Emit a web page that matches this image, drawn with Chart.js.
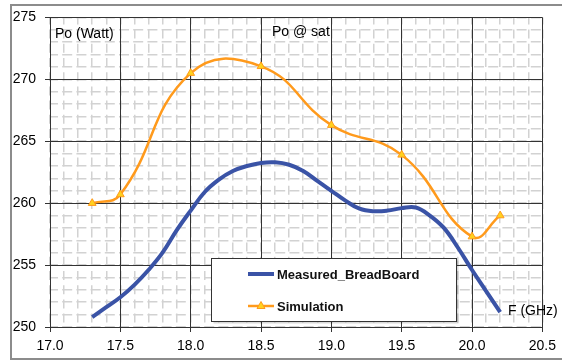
<!DOCTYPE html>
<html>
<head>
<meta charset="utf-8">
<title>Po @ sat</title>
<script src="https://cdn.jsdelivr.net/npm/chart.js"></script>
<style>
  html, body { margin: 0; padding: 0; background: #fff; }
  canvas { display: block; }
</style>
</head>
<body>
<canvas id="poChart" width="562" height="360"></canvas>
<script>
// Output power at saturation vs frequency
var measuredF = [17.3, 17.4, 17.5, 17.6, 17.7, 17.8, 17.9, 18.0, 18.1, 18.2, 18.3, 18.4, 18.5, 18.6, 18.7,
                 18.8, 18.9, 19.0, 19.1, 19.2, 19.3, 19.4, 19.5, 19.6, 19.7, 19.8, 19.9, 20.0, 20.1, 20.2];
var measuredPo = [250.8, 251.6, 252.4, 253.4, 254.6, 256.0, 257.8, 259.4, 260.9, 261.9, 262.6, 263.0, 263.25, 263.3, 263.1,
                  262.6, 261.8, 261.0, 260.2, 259.55, 259.35, 259.4, 259.6, 259.65, 259.0, 258.0, 256.4, 254.6, 252.9, 251.2];

var simF = [17.3, 17.5, 18.0, 18.5, 19.0, 19.5, 20.0, 20.2];
var simPo = [260.0, 260.7, 270.5, 271.05, 266.3, 263.9, 257.3, 259.0];

var seriesNames = ['Measured_BreadBoard', 'Simulation'];
var xTickStep = 0.5;
var yTickStep = 5;

function toPoints(xs, ys) {
    return xs.map(function(x, i) { return { x: x, y: ys[i] }; });
}

var BLUE = '#3a53a6';
var ORANGE = '#ff9a1c';
var MARKER = '#ffd21f';
var FONT = '"Liberation Sans", Arial, sans-serif';

// grey frame round the whole chart
var framePlugin = {
    id: 'frame',
    beforeDraw: function(chart) {
        var c = chart.ctx;
        c.save();
        c.fillStyle = '#fff';
        c.fillRect(0, 0, chart.width, chart.height);
        c.strokeStyle = '#8c8c8c';
        c.lineWidth = 2;
        c.strokeRect(11, 5, 600, 354);
        c.restore();
    }
};

// axis titles, chart title and the legend box inside the plot
var notesPlugin = {
    id: 'notes',
    afterDraw: function(chart) {
        var c = chart.ctx;
        c.save();
        c.fillStyle = '#000';
        c.textBaseline = 'alphabetic';
        c.font = '14px ' + FONT;
        c.fillText('Po (Watt)', 55, 38);
        c.fillText('Po @ sat', 272, 36);
        c.fillText('F (GHz)', 508, 315);

        // legend
        var bx = 211.5, by = 258.5, bw = 245, bh = 63;
        c.fillStyle = 'rgba(0,0,0,0.15)';
        c.fillRect(bx + 2, by + 2, bw, bh);
        c.fillStyle = '#fff';
        c.fillRect(bx, by, bw, bh);
        c.strokeStyle = '#333';
        c.lineWidth = 1;
        c.strokeRect(bx, by, bw, bh);

        c.lineCap = 'butt';
        c.strokeStyle = BLUE;
        c.lineWidth = 4;
        c.beginPath();
        c.moveTo(248, 274);
        c.lineTo(274, 274);
        c.stroke();

        c.strokeStyle = ORANGE;
        c.lineWidth = 2.5;
        c.beginPath();
        c.moveTo(248, 306);
        c.lineTo(274, 306);
        c.stroke();
        c.fillStyle = MARKER;
        c.strokeStyle = ORANGE;
        c.lineWidth = 1;
        c.beginPath();
        c.moveTo(261, 301.5);
        c.lineTo(265, 308.5);
        c.lineTo(257, 308.5);
        c.closePath();
        c.fill();
        c.stroke();

        c.fillStyle = '#111';
        c.font = 'bold 13px ' + FONT;
        c.textBaseline = 'middle';
        c.fillText(seriesNames[0], 277, 275);
        c.fillText(seriesNames[1], 277, 307);
        c.restore();
    }
};

var ctx = document.getElementById('poChart').getContext('2d');
var poChart = new Chart(ctx, {
    type: 'line',
    data: {
        datasets: [
            {
                label: seriesNames[0],
                data: toPoints(measuredF, measuredPo),
                borderColor: BLUE,
                borderWidth: 4,
                pointRadius: 0,
                tension: 0.4,
                fill: false
            },
            {
                label: seriesNames[1],
                data: toPoints(simF, simPo),
                borderColor: ORANGE,
                borderWidth: 2.5,
                pointStyle: 'triangle',
                pointRadius: 4.5,
                pointBackgroundColor: MARKER,
                pointBorderColor: ORANGE,
                pointBorderWidth: 1,
                tension: 0.45,
                fill: false
            }
        ]
    },
    options: {
        responsive: false,
        animation: false,
        devicePixelRatio: 1,
        layout: { padding: { left: 0, top: 17, right: 15, bottom: 0 } },
        plugins: {
            legend: { display: false },
            title: { display: false },
            tooltip: { enabled: false }
        },
        scales: {
            xMinor: {
                type: 'linear', position: 'bottom', min: 17, max: 20.5, z: -1,
                ticks: { stepSize: 0.1, display: false },
                grid: { color: '#d2d2d2', lineWidth: 1.5, drawTicks: false },
                border: { display: false, dash: [9, 5.2], dashOffset: 2 },
                afterFit: function(s) { s.height = 0; }
            },
            yMinor: {
                type: 'linear', position: 'left', min: 250, max: 275, z: -1,
                ticks: { stepSize: 1, display: false },
                grid: { color: '#d2d2d2', lineWidth: 1.5, drawTicks: false },
                border: { display: false, dash: [10, 4.2], dashOffset: 2 },
                afterFit: function(s) { s.width = 0; }
            },
            x: {
                type: 'linear', position: 'bottom', min: 17, max: 20.5,
                ticks: {
                    stepSize: xTickStep, color: '#000', padding: 6,
                    font: { family: FONT, size: 14 },
                    callback: function(v) { return v.toFixed(1); }
                },
                grid: { color: '#333', lineWidth: 1, tickLength: 5 },
                border: { color: '#333', width: 1 },
                afterFit: function(s) { s.height = 33; }
            },
            y: {
                type: 'linear', position: 'left', min: 250, max: 275,
                ticks: {
                    stepSize: yTickStep, color: '#000', padding: 9,
                    font: { family: FONT, size: 14 }
                },
                grid: { color: '#333', lineWidth: 1, tickLength: 5 },
                border: { color: '#333', width: 1 },
                afterFit: function(s) { s.width = 50; }
            }
        }
    },
    plugins: [framePlugin, notesPlugin]
});
</script>
</body>
</html>
